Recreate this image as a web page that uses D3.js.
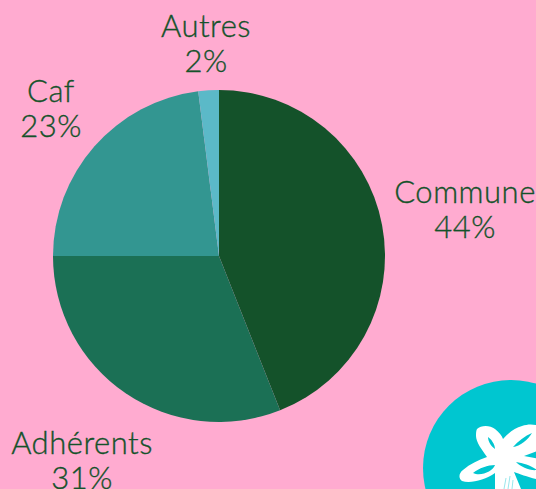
<!DOCTYPE html>
<html>
<head>
<meta charset="utf-8">
<script src="https://cdn.jsdelivr.net/npm/d3@7"></script>
<style>
html, body { margin: 0; padding: 0; background: #ffabd0; overflow: hidden; }
text { font-family: "Lato", sans-serif; font-weight: 300; font-size: 31px; letter-spacing: 0.5px; fill: #14522a; stroke: #14522a; stroke-width: 0.35px; text-anchor: middle; }
</style>
</head>
<body>
<script>
let width = 536;
let height = 489;

// clockwise from twelve o'clock
let categories = ['Commune', 'Adhérents', 'Caf', 'Autres'];
let values = [44, 31, 23, 2];
let colors = ['#14522a', '#1b7055', '#339691', '#5bb9c8'];

let cx = 219;
let cy = 256;
let radius = 166;

// label anchors, centre of the first line
let labelPos = [[465, 193], [82, 444], [51, 92], [206, 27]];

let svg = d3.select('body')
    .append('svg')
    .attr('width', width)
    .attr('height', height)
    .style('display', 'block');

let pie = d3.pie().sort(null).value(d => d);
let arc = d3.arc().innerRadius(0).outerRadius(radius);

svg.append('g')
    .attr('transform', `translate(${cx},${cy})`)
  .selectAll('path')
    .data(pie(values))
  .enter().append('path')
    .attr('d', arc)
    .attr('fill', (d, i) => colors[i]);

let labels = svg.selectAll('.label')
    .data(categories)
  .enter().append('text')
    .attr('class', 'label')
    .attr('x', (d, i) => labelPos[i][0])
    .attr('y', (d, i) => labelPos[i][1] + 10);

labels.append('tspan').text(d => d);
labels.append('tspan')
    .attr('x', (d, i) => labelPos[i][0])
    .attr('dy', 35)
    .text((d, i) => values[i] + '%');

// logo in the bottom right corner
let logo = svg.append('g');
logo.append('circle')
    .attr('cx', 511)
    .attr('cy', 468)
    .attr('r', 88)
    .attr('fill', '#00c6d0');

// flower outline, then the four holes (evenodd)
let flower = [
  'M477 429 C481 425 490 425 495 429 C499 432 502 436 503 439 C508 433 515 428 522 426 C528 424 533 424 540 426',
  'L540 450 L524 456 L540 459 L540 480 C530 478 520 474 514 472 L521 489 L495 489 L495 473',
  'C485 480 470 484 462 481 C458 478 459 473 463 470 C470 464 478 460 487 457 C482 450 476 442 476 436 C476 433 476 431 477 429 Z',
  'M488 437 C491 439 495 444 495 449 C492 447 488 442 488 437 Z',
  'M513 447 C518 441 525 436 532 433 C528 440 520 446 513 447 Z',
  'M473 473 C479 468 488 465 495 465 C493 471 481 477 473 473 Z',
  'M516 462 C523 463 532 466 537 470 C530 471 521 467 516 462 Z'
].join(' ');

logo.append('path')
    .attr('d', flower)
    .attr('fill', '#fff')
    .attr('fill-rule', 'evenodd');

// brush streaks on the stem
logo.selectAll('.streak')
    .data(['M506 478 L504 489', 'M510 476 L508 489', 'M513 480 L512 489'])
  .enter().append('path')
    .attr('class', 'streak')
    .attr('d', d => d)
    .attr('stroke', '#7fe0e6')
    .attr('stroke-width', 0.8)
    .attr('fill', 'none');
</script>
</body>
</html>
